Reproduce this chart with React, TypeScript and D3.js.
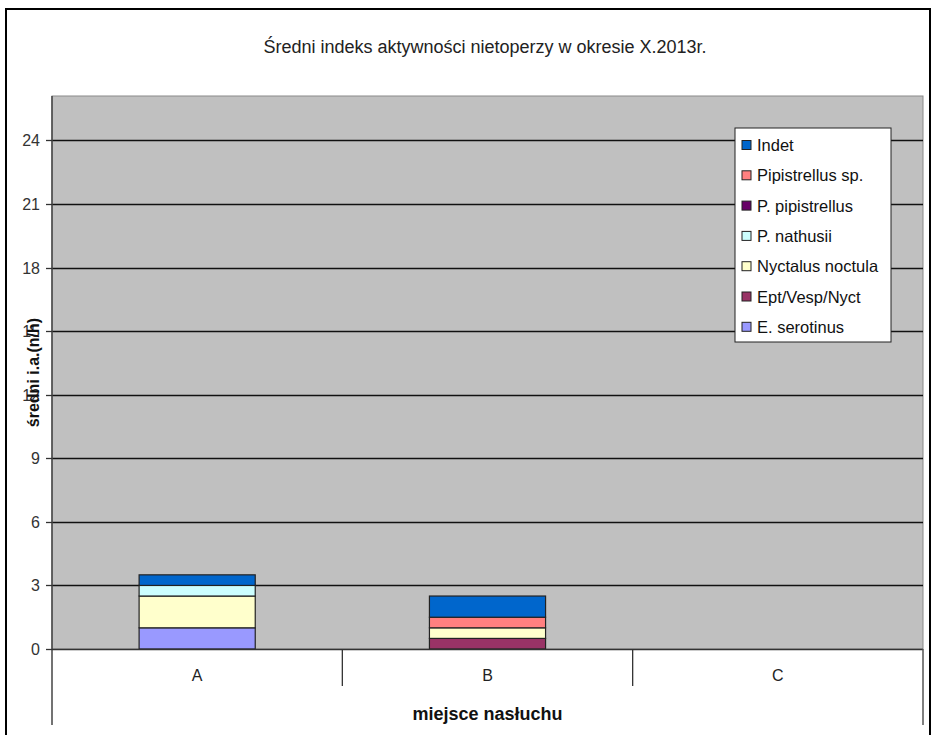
import React from "react";
import * as d3 from "d3";

// Listening sites (categories)
const sites = ["A", "B", "C"];

// Species series, stacked bottom to top
const speciesNames = [
  "E. serotinus",
  "Ept/Vesp/Nyct",
  "Nyctalus noctula",
  "P. nathusii",
  "P. pipistrellus",
  "Pipistrellus sp.",
  "Indet",
];
const speciesColors = [
  "#9999FF",
  "#993366",
  "#FFFFCC",
  "#CCFFFF",
  "#660066",
  "#FF8080",
  "#0066CC",
];

// Mean activity index (n/h) per site, one array per species, order = sites
const eSerotinus = [1.0, 0, 0];
const eptVespNyct = [0, 0.5, 0];
const nyctalusNoctula = [1.5, 0.5, 0];
const pNathusii = [0.5, 0, 0];
const pPipistrellus = [0, 0, 0];
const pipistrellusSp = [0, 0.5, 0];
const indet = [0.5, 1.0, 0];

const seriesValues = [
  eSerotinus,
  eptVespNyct,
  nyctalusNoctula,
  pNathusii,
  pPipistrellus,
  pipistrellusSp,
  indet,
];

const yTicks = [0, 3, 6, 9, 12, 15, 18, 21, 24];
const yMax = 26.1;

const title = "Średni indeks aktywności nietoperzy w okresie X.2013r.";
const yTitle = "średni i.a.(n/h)";
const xTitle = "miejsce nasłuchu";

const W = 936;
const H = 735;
const plot = { left: 52, right: 923, top: 96, bottom: 649 };
const font = "'Liberation Sans', Arial, sans-serif";

export default function App() {
  const x = d3
    .scaleBand<string>()
    .domain(sites)
    .range([plot.left, plot.right])
    .paddingInner(0)
    .paddingOuter(0);
  const barW = x.bandwidth() / 2.5;
  const y = d3.scaleLinear().domain([0, yMax]).range([plot.bottom, plot.top]);

  const table = sites.map((s, i) => {
    const row: Record<string, number | string> = { site: s };
    speciesNames.forEach((n, k) => (row[n] = seriesValues[k][i]));
    return row;
  });
  const stacked = d3.stack<Record<string, number | string>>().keys(speciesNames)(table as any);

  const legendItems = speciesNames.map((n, i) => ({ n, c: speciesColors[i] })).reverse();
  const legend = { x: 735, y: 128, w: 156, h: 214 };
  const legendStep = 30.3;

  return (
    <svg
      width={W}
      height={H}
      style={{ position: "absolute", left: 0, top: 0, background: "#fff" }}
      fontFamily={font}
    >
      {/* chart frame */}
      <rect x={6} y={9} width={924} height={800} fill="#fff" stroke="#000" strokeWidth={2} />

      <text x={485} y={53} textAnchor="middle" fontSize={18} fill="#222">
        {title}
      </text>

      {/* plot background */}
      <rect
        x={plot.left}
        y={plot.top}
        width={plot.right - plot.left}
        height={plot.bottom - plot.top}
        fill="#C0C0C0"
        stroke="#8a8a8a"
        strokeWidth={1}
      />

      {/* gridlines */}
      {yTicks.filter((t) => t > 0).map((t) => (
        <line
          key={t}
          x1={plot.left}
          x2={plot.right}
          y1={Math.round(y(t)) + 0.5}
          y2={Math.round(y(t)) + 0.5}
          stroke="#111"
          strokeWidth={1.3}
        />
      ))}

      {/* stacked bars */}
      {stacked.map((layer, k) => (
        <g key={speciesNames[k]}>
          {layer.map((d, i) => {
            const h = y(d[0]) - y(d[1]);
            if (h <= 0) return null;
            const cx = (x(sites[i]) as number) + x.bandwidth() / 2;
            return (
              <rect
                key={i}
                x={cx - barW / 2}
                y={y(d[1])}
                width={barW}
                height={h}
                fill={speciesColors[k]}
                stroke="#222"
                strokeWidth={1.2}
              />
            );
          })}
        </g>
      ))}

      {/* y axis */}
      <line x1={plot.left} x2={plot.left} y1={plot.top} y2={725} stroke="#444" strokeWidth={1.5} />
      {yTicks.map((t) => (
        <g key={t}>
          <line x1={46} x2={plot.left} y1={Math.round(y(t)) + 0.5} y2={Math.round(y(t)) + 0.5} stroke="#333" strokeWidth={1.3} />
          <text x={40} y={y(t) + 6} textAnchor="end" fontSize={16} fill="#333">
            {t}
          </text>
        </g>
      ))}

      {/* x axis */}
      <line x1={plot.left} x2={plot.right} y1={plot.bottom + 0.5} y2={plot.bottom + 0.5} stroke="#333" strokeWidth={1.5} />
      {sites.map((s, i) => {
        const bx = x(s) as number;
        return (
          <g key={s}>
            {i > 0 && (
              <line x1={bx} x2={bx} y1={plot.bottom} y2={686} stroke="#333" strokeWidth={1.3} />
            )}
            <text x={bx + x.bandwidth() / 2} y={681} textAnchor="middle" fontSize={16} fill="#222">
              {s}
            </text>
          </g>
        );
      })}
      <line x1={plot.right} x2={plot.right} y1={plot.bottom} y2={725} stroke="#555" strokeWidth={1.5} />

      <text x={(plot.left + plot.right) / 2} y={720} textAnchor="middle" fontSize={18} fontWeight="bold" fill="#111">
        {xTitle}
      </text>
      <text
        transform={`translate(39, ${(plot.top + plot.bottom) / 2}) rotate(-90)`}
        textAnchor="middle"
        fontSize={16}
        fontWeight="bold"
        fill="#111"
      >
        {yTitle}
      </text>

      {/* legend */}
      <rect x={legend.x} y={legend.y} width={legend.w} height={legend.h} fill="#fff" stroke="#222" strokeWidth={1} />
      {legendItems.map((it, i) => {
        const cy = legend.y + 17 + i * legendStep;
        return (
          <g key={it.n}>
            <rect x={742} y={cy - 4.5} width={9} height={9} fill={it.c} stroke="#222" strokeWidth={1} />
            <text x={757} y={cy + 6} fontSize={16.5} fill="#111">
              {it.n}
            </text>
          </g>
        );
      })}
    </svg>
  );
}
